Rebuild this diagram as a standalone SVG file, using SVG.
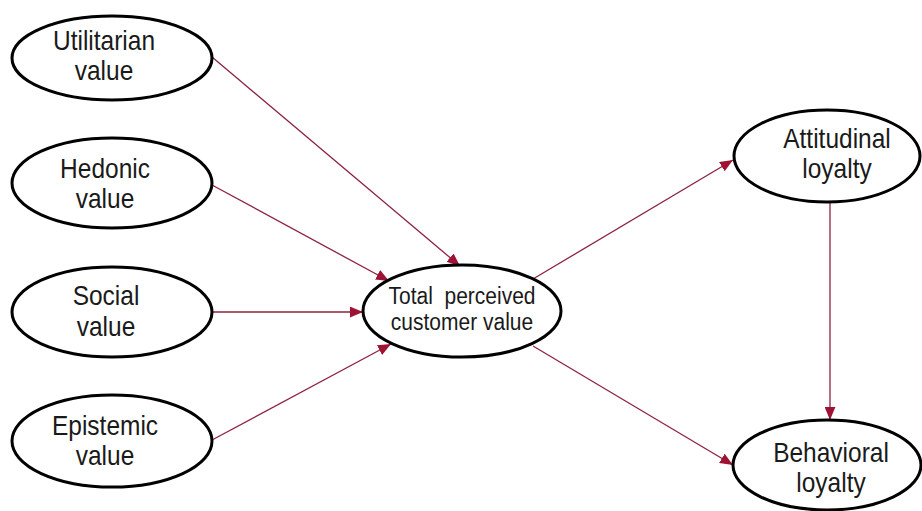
<svg xmlns="http://www.w3.org/2000/svg" width="922" height="511" viewBox="0 0 922 511">
  <defs>
    <marker id="arrow" viewBox="0 0 12 10" refX="12" refY="5" markerWidth="13" markerHeight="11" markerUnits="userSpaceOnUse" orient="auto">
      <path d="M0,0 L12,5 L0,10 Z" fill="#9e1233"/>
    </marker>
    <style>
      .node ellipse { fill: #ffffff; stroke: #000000; stroke-width: 3; }
      .node text { font-family: "Liberation Sans", Arial, sans-serif; font-size: 24.5px; fill: #1a1a1a; text-anchor: middle; }
      #total text { font-size: 21px; white-space: pre; }
      .edge { stroke: #8e2340; stroke-width: 1.3; fill: none; marker-end: url(#arrow); }
    </style>
  </defs>
  <rect width="922" height="511" fill="#ffffff"/>

  <g id="connectors">
    <line class="edge" x1="212" y1="57" x2="460" y2="266"/>
    <line class="edge" x1="212" y1="185" x2="389" y2="281"/>
    <line class="edge" x1="213" y1="312" x2="363" y2="312"/>
    <line class="edge" x1="212" y1="440" x2="391" y2="344"/>
    <line class="edge" x1="533" y1="279" x2="733" y2="160"/>
    <line class="edge" x1="533" y1="346" x2="733" y2="465"/>
    <line class="edge" x1="830" y1="202" x2="830" y2="420"/>
  </g>

  <g id="utilitarian" class="node">
    <ellipse cx="112" cy="58" rx="100" ry="42"/>
    <text transform="translate(104,50) scale(1,1.15)">Utilitarian</text>
    <text transform="translate(104,80) scale(1,1.15)">value</text>
  </g>
  <g id="hedonic" class="node">
    <ellipse cx="112" cy="183" rx="100" ry="45"/>
    <text transform="translate(105,178) scale(1,1.15)">Hedonic</text>
    <text transform="translate(105,208) scale(1,1.15)">value</text>
  </g>
  <g id="social" class="node">
    <ellipse cx="112" cy="312" rx="100" ry="45"/>
    <text transform="translate(106,305) scale(1,1.15)">Social</text>
    <text transform="translate(106,336) scale(1,1.15)">value</text>
  </g>
  <g id="epistemic" class="node">
    <ellipse cx="112" cy="441" rx="100" ry="46"/>
    <text transform="translate(105,435) scale(1,1.15)">Epistemic</text>
    <text transform="translate(105,465) scale(1,1.15)">value</text>
  </g>
  <g id="total" class="node">
    <ellipse cx="462" cy="311" rx="99" ry="46"/>
    <text transform="translate(462,304) scale(1,1.15)">Total  perceived</text>
    <text transform="translate(462,330) scale(1,1.15)">customer value</text>
  </g>
  <g id="attitudinal" class="node">
    <ellipse cx="827" cy="156" rx="93" ry="46"/>
    <text transform="translate(837,148) scale(1,1.15)">Attitudinal</text>
    <text transform="translate(837,178) scale(1,1.15)">loyalty</text>
  </g>
  <g id="behavioral" class="node">
    <ellipse cx="827" cy="465" rx="94" ry="45"/>
    <text transform="translate(831,462) scale(1,1.15)">Behavioral</text>
    <text transform="translate(831,492) scale(1,1.15)">loyalty</text>
  </g>
</svg>
